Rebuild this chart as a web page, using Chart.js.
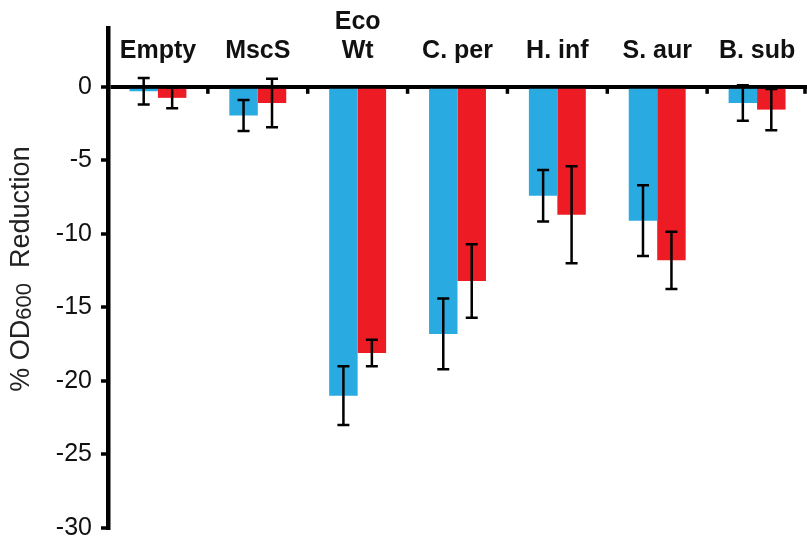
<!DOCTYPE html>
<html>
<head>
<meta charset="utf-8">
<script src="https://cdn.jsdelivr.net/npm/chart.js@4"></script>
<style>
  body { margin: 0; background: #fff; }
</style>
</head>
<body>
<canvas id="chart" width="807" height="542"></canvas>
<script>
const categories = ['Empty', 'MscS', ['Eco', 'Wt'], 'C. per', 'H. inf', 'S. aur', 'B. sub'];
const blueValues = [-0.3, -1.95, -21.0, -16.8, -7.4, -9.1, -1.1];
const blueErrors = [0.9, 1.05, 2.0, 2.4, 1.75, 2.4, 1.2];
const redValues = [-0.75, -1.1, -18.1, -13.2, -8.7, -11.8, -1.55];
const redErrors = [0.7, 1.65, 0.9, 2.5, 3.3, 1.95, 1.4];
const yTicks = [0, -5, -10, -15, -20, -25, -30];

const FONT = '"Liberation Sans", Arial, sans-serif';

const extras = {
  id: 'extras',
  afterDatasetsDraw(chart) {
    const ctx = chart.ctx;
    const x = chart.scales.x;
    const y = chart.scales.y;
    const area = chart.chartArea;

    // error bars
    ctx.save();
    ctx.strokeStyle = '#000';
    ctx.lineWidth = 2.5;
    chart.data.datasets.forEach((ds, di) => {
      const meta = chart.getDatasetMeta(di);
      meta.data.forEach((bar, i) => {
        const v = ds.data[i], e = ds.errors[i];
        const top = y.getPixelForValue(v + e);
        const bot = y.getPixelForValue(v - e);
        ctx.beginPath();
        ctx.moveTo(bar.x, top); ctx.lineTo(bar.x, bot);
        ctx.moveTo(bar.x - 6, top); ctx.lineTo(bar.x + 6, top);
        ctx.moveTo(bar.x - 6, bot); ctx.lineTo(bar.x + 6, bot);
        ctx.stroke();
      });
    });

    // small ticks between groups, below zero line
    const zero = y.getPixelForValue(0);
    ctx.lineWidth = 3.5;
    for (let i = 0; i < categories.length; i++) {
      const px = Math.min((x.getPixelForValue(i) + x.getPixelForValue(i + 1)) / 2, area.right - 2);
      ctx.beginPath();
      ctx.moveTo(px, zero);
      ctx.lineTo(px, zero + 7);
      ctx.stroke();
    }

    // category labels
    ctx.fillStyle = '#111';
    ctx.font = 'bold 25px ' + FONT;
    ctx.textAlign = 'center';
    ctx.textBaseline = 'alphabetic';
    categories.forEach((lab, i) => {
      const lines = Array.isArray(lab) ? lab : [lab];
      const cx = x.getPixelForValue(i);
      lines.forEach((t, j) => {
        ctx.fillText(t, cx, area.top + 30 - (lines.length - 1 - j) * 29);
      });
    });

    // y axis title with subscript
    ctx.translate(29, 269);
    ctx.rotate(-Math.PI / 2);
    ctx.textAlign = 'left';
    ctx.textBaseline = 'alphabetic';
    ctx.fillStyle = '#222';
    const big = '27px ' + FONT, small = '22px ' + FONT;
    const parts = [['% OD', big, 0], ['600', small, 2], ['  Reduction', big, 0]];
    let w = 0;
    parts.forEach(p => { ctx.font = p[1]; w += ctx.measureText(p[0]).width; });
    let cx = -w / 2;
    parts.forEach(p => {
      ctx.font = p[1];
      ctx.fillText(p[0], cx, p[2]);
      cx += ctx.measureText(p[0]).width;
    });
    ctx.restore();
  }
};

new Chart(document.getElementById('chart'), {
  type: 'bar',
  data: {
    labels: categories,
    datasets: [
      { data: blueValues, errors: blueErrors, backgroundColor: '#29abe2' },
      { data: redValues, errors: redErrors, backgroundColor: '#ed1c24' }
    ]
  },
  options: {
    responsive: false,
    animation: false,
    layout: { padding: { top: 28, bottom: 14, right: 0, left: 0 } },
    plugins: { legend: { display: false }, tooltip: { enabled: false } },
    datasets: { bar: { categoryPercentage: 0.57, barPercentage: 1 } },
    scales: {
      x: { display: false },
      y: {
        min: -30,
        max: 4,
        afterBuildTicks: s => { s.ticks = yTicks.map(v => ({ value: v })); },
        afterFit: s => { s.width = 108; s.paddingTop = 0; s.paddingBottom = 0; },
        border: { color: '#000', width: 4.5 },
        grid: {
          color: c => (c.tick && c.tick.value === 0 ? '#000' : 'rgba(0,0,0,0)'),
          lineWidth: 4,
          tickColor: '#000',
          tickLength: 7,
          tickWidth: 3.5
        },
        ticks: {
          color: '#111',
          font: { family: FONT, size: 25 },
          padding: 9
        }
      }
    }
  },
  plugins: [extras]
});
</script>
</body>
</html>
